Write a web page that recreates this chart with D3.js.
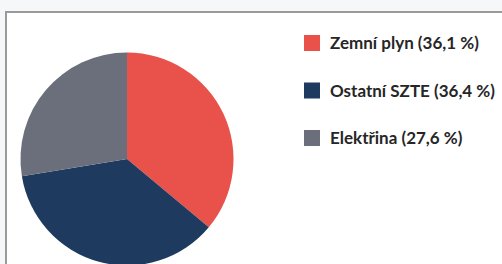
<!DOCTYPE html>
<html><head><meta charset="utf-8">
<script src="https://cdn.jsdelivr.net/npm/d3@7"></script>
<style>html,body{margin:0;padding:0;background:#f6f7f9;overflow:hidden}</style>
</head><body>
<svg id="c" width="502" height="264"></svg>
<script>
const categories = ["Zemní plyn", "Ostatní SZTE", "Elektřina"];
const values = [36.1, 36.4, 27.6];
const labels = ["Zemní plyn (36,1 %)", "Ostatní SZTE (36,4 %)", "Elektřina (27,6 %)"];
const colors = ["#e8524a", "#1e3a5e", "#6b6e7b"];

const svg = d3.select("#c");
// frame
svg.append("rect").attr("x", 6).attr("y", 12).attr("width", 520).attr("height", 280)
  .attr("fill", "#ffffff").attr("stroke", "#9a9a9a").attr("stroke-width", 2);

const cx = 127, cy = 159, r = 106.5;
const pie = d3.pie().sort(null).value(d => d)(values);
const arc = d3.arc().innerRadius(0).outerRadius(r);
const color = d3.scaleOrdinal().domain(categories).range(colors);

svg.append("g").attr("transform", `translate(${cx},${cy})`)
  .selectAll("path").data(pie).join("path")
  .attr("d", arc).attr("fill", (d, i) => color(categories[i]));

const y = d3.scalePoint().domain(categories).range([43, 138]);
const leg = svg.append("g").selectAll("g").data(categories).join("g")
  .attr("transform", d => `translate(304,${y(d)})`);
leg.append("rect").attr("x", 0).attr("y", -8).attr("width", 16).attr("height", 16)
  .attr("fill", d => color(d));
leg.append("text").attr("x", 26).attr("y", 0).attr("dy", "0.36em")
  .attr("font-family", "Lato, 'Open Sans', sans-serif").attr("font-weight", "bold")
  .attr("font-size", 17).attr("fill", "#262626")
  .text((d, i) => labels[i]);
</script>
</body></html>
